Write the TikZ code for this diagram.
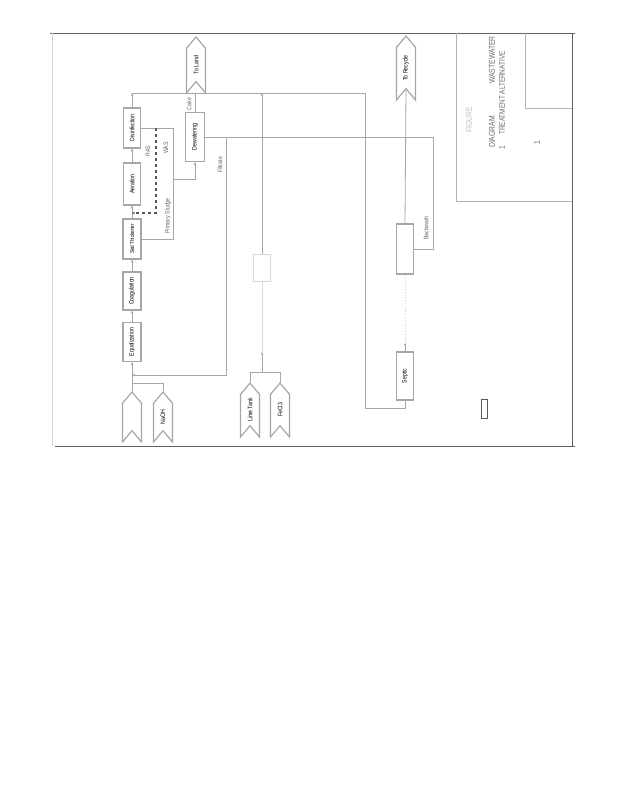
\documentclass[tikz,border=0pt]{standalone}
\usepackage{fontspec}
\setmainfont{Liberation Sans}[FakeStretch=0.8]
\usetikzlibrary{shapes.symbols,arrows.meta}
\begin{document}
\begin{tikzpicture}[x=1pt,y=-1pt,
  ln/.style={draw=gray!70,line width=0.8pt},
  arr/.style={ln,-{Stealth[length=3pt,width=2.6pt]}},
  box/.style={draw=gray!70,line width=1.2pt,fill=white,rotate=90,minimum width=#1,minimum height=17,inner sep=1pt,font=\fontsize{6.5}{7}\selectfont},
  chev/.style={draw=gray!70,line width=1.2pt,fill=white,rotate=90,shape=signal,signal to=east,signal from=west,signal pointer angle=80,minimum width=#1,minimum height=19,inner sep=1pt,font=\fontsize{6.5}{7}\selectfont},
  lbl/.style={rotate=90,text=gray!80!black,font=\fontsize{6.5}{7}\selectfont,inner sep=0.5pt},
  ttl/.style={rotate=90,text=gray!85!black,font=\fontsize{8.5}{9}\selectfont,inner sep=0.5pt},
  frame/.style={draw=gray!75!black,line width=0.8pt}]
\useasboundingbox (0,0) rectangle (619,800);
\fill[white] (0,0) rectangle (619,800);
% frame and title block
\draw[frame] (50,33) -- (575,33);
\draw[frame] (55,446) -- (575,446);
\draw[frame] (572,33) -- (572,446);
\draw[draw=gray!35,line width=0.6pt] (52,33) -- (52,446);
\draw[frame,draw=gray!60] (456,33) -- (456,201) -- (572,201);
\draw[frame,draw=gray!60] (525,33) -- (525,108) -- (572,108);
\node[ttl,text=gray!50] (fig) at (469,120) {FIGURE};
\node[ttl] (t1) at (492,132) {DIAGRAM};
\node[ttl] (t2) at (492,60) {WASTEWATER};
\node[ttl,font=\fontsize{8}{9}\selectfont] (t3) at (502,93) {TREATMENT ALTERNATIVE};
\node[ttl] (t4) at (502,148) {1};
\node[ttl] (t5) at (537,143) {1};
\draw[draw=gray!70!black,line width=0.9pt] (481,399) rectangle (487,418);
% main process chain
\node[box=40] (dis) at (132,128) {Disinfection};
\node[box=42] (aer) at (132,184) {Aeration};
\node[box=40,minimum height=18,font=\fontsize{5.8}{6}\selectfont] (sed) at (132,239) {Sed Thickener};
\node[box=38,minimum height=18] (coag) at (132,291) {Coagulation};
\node[box=39,minimum height=18] (eq) at (132,342) {Equalization};
\node[chev=50] (inf) at (132,417) {};
\node[chev=50] (naoh) at (163,417) {NaOH};
\node[chev=56] (land) at (196,65) {To Land};
\node[chev=64] (rec) at (406,68) {To Recycle};
\node[chev=54] (lime) at (250,410) {Lime Tank};
\node[chev=54] (fecl) at (280,410) {FeCl3};
\node[box=49,minimum height=19] (dew) at (195,137) {Dewatering};
\node[box=50] (filt) at (405,249) {};
\node[box=48] (sep) at (405,376) {Septic};
\node[box=27,draw=gray!30] (fb) at (262,268) {};
% coordinates
\coordinate (b1) at (132,93);
\coordinate (b2) at (365,93);
\coordinate (b3) at (262,93);
\coordinate (j) at (262,372);
\coordinate (ja) at (262,352);
\coordinate (e1) at (433,137);
\coordinate (e2) at (433,249);
\coordinate (c1) at (365,408);
\coordinate (c2) at (405,408);
\coordinate (sepa) at (405,343);
\coordinate (f1) at (226,137);
\coordinate (f2) at (226,375);
\coordinate (m) at (132,383);
\coordinate (w1) at (173,128);
\coordinate (w2) at (173,239);
\coordinate (w3) at (173,179);
\coordinate (r1) at (156,128);
\coordinate (r2) at (156,213);
\coordinate (r3) at (132,213);
% connectors
\draw[ln] (b1) -- (b2);
\draw[arr] (dis.east) -- (b1);
\draw[ln] (dew.east) -- (dew.east |- b1);
\draw[arr] (fb.east) -- (b3);
\draw[ln,draw=gray!30] (fb.west) -- (ja);
\draw[ln] (lime.east) -- (lime.east |- j) -- (fecl.east |- j) -- (fecl.east);
\draw[arr] (j) -- (ja);
\draw[ln] (dew.south) -- (e1) -- (e2) -- (filt.south);
\draw[ln] (b2) -- (c1) -- (c2) -- (sep.west);
\draw[ln] (rec.west) -- (filt.east);
\draw[arr] (sep.east) -- (sepa);
\draw[ln,draw=gray!40,dotted] (sepa) -- (filt.west);
\draw[arr] (f1) -- (f2) -- (f2 -| eq);
\draw[arr] (inf.east) -- (eq.west);
\draw[ln] (naoh.east) -- (naoh.east |- m) -- (m);
\draw[arr] (eq.east) -- (coag.west);
\draw[arr] (coag.east) -- (sed.west);
\draw[arr] (sed.east) -- (aer.west);
\draw[arr] (aer.east) -- (dis.west);
\draw[ln] (dis.south) -- (w1) -- (w2) -- (sed.south);
\draw[arr] (w3) -| (dew.west);
\draw[arr,draw=gray!70!black,line width=1.1pt,dashed] (r1) -- (r2) -- (r3);
% labels
\node[lbl] (lras) at (148,151) {RAS};
\node[lbl] (lwas) at (166,148) {WAS};
\node[lbl] (lps) at (168,216) {Primary Sludge};
\node[lbl] (lcake) at (189,104) {Cake};
\node[lbl] (lfil) at (220,165) {Filtrate};
\node[lbl] (lbw) at (426,228) {Backwash};
\end{tikzpicture}
\end{document}
